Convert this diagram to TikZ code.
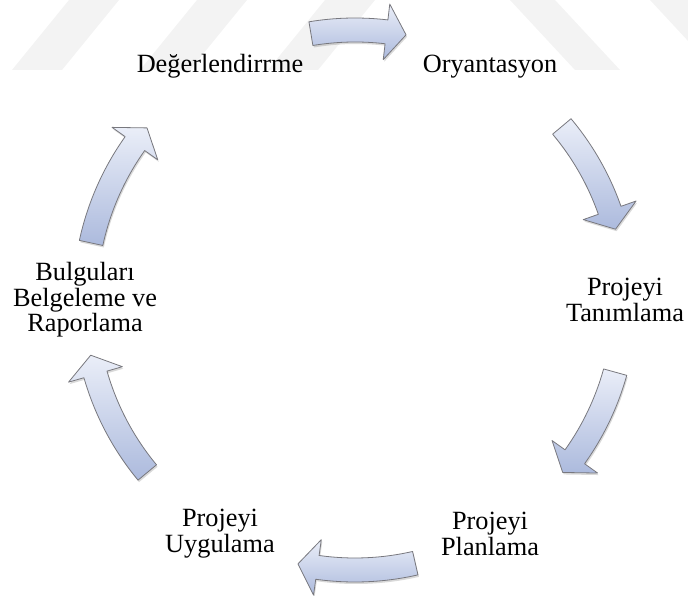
\documentclass[tikz,border=0pt]{standalone}
\usepackage{fontspec}
\setmainfont{Liberation Serif}
\usetikzlibrary{shadows}

\definecolor{arrowtop}{RGB}{234,238,248}
\definecolor{arrowbottom}{RGB}{172,186,221}
\definecolor{arrowline}{RGB}{120,120,126}
\definecolor{markgray}{RGB}{243,243,243}

\tikzset{
	stage/.style={align=center, inner sep=0pt, font=\fontsize{26.3}{25.5}\selectfont},
	cyclearrow/.style={draw=arrowline, line width=0.8pt, line join=round,
		top color=arrowtop, bottom color=arrowbottom,
		drop shadow={shadow xshift=1pt, shadow yshift=-2pt, opacity=0.15, fill=black}},
}

\begin{document}
\begin{tikzpicture}[x=1pt, y=1pt]
	\useasboundingbox (0,0) rectangle (688,596);
	% watermark
	\foreach \s in {12,140,268}
		\fill[markgray] (\s,526) -- (\s+50,526) -- (\s+107,596) -- (\s+57,596) -- cycle;
	\foreach \s in {575,715}
		\fill[markgray] (\s,526) -- (\s+45,526) -- (\s-20,596) -- (\s-65,596) -- cycle;
	\begin{scope}[shift={(355,296)}]
		% stages
		\node[stage] (orient) at (60:270) {Oryantasyon};
		\node[stage] (tanim) at (0:270) {Projeyi\\Tanımlama};
		\node[stage] (plan) at (-60:270) {Projeyi\\Planlama};
		\node[stage] (uygula) at (-120:270) {Projeyi\\Uygulama};
		\node[stage] (rapor) at (180:270) {Bulguları\\Belgeleme ve\\Raporlama};
		\node[stage] (deger) at (120:270) {Değerlendirrme};
		% arrows round the cycle
		\foreach \a/\b in {99.4/79.1, 40/15.2, -15.5/-39.7, -77.1/-102.2, 219.7/191.8, 167.8/140.4}{
			\pgfmathsetmacro{\h}{\b+4.2}
			\draw[cyclearrow] (\a:282pt) arc[start angle=\a, end angle=\h, radius=282pt]
				-- (\h:298pt) -- (\b:270pt) -- (\h:242pt) -- (\h:258pt)
				arc[start angle=\h, end angle=\a, radius=258pt] -- cycle;
		}
	\end{scope}
\end{tikzpicture}
\end{document}
